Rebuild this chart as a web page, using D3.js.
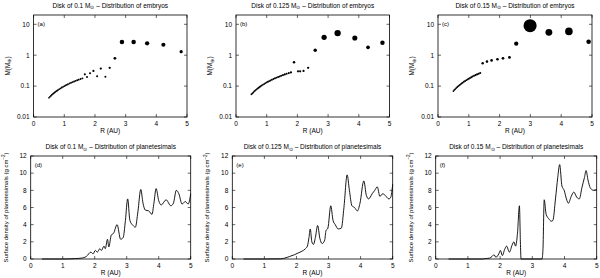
<!DOCTYPE html>
<html>
<head>
<meta charset="utf-8">
<script src="https://cdn.jsdelivr.net/npm/d3@7"></script>
<style>
body { margin: 0; background: #fff; }
text { font-family: "Liberation Sans", Arial, sans-serif; fill: #000; }
</style>
</head>
<body>
<div id="chart"></div>
<script>
// tick labels
var rTicks = [0, 1, 2, 3, 4, 5];
var massTicks = [0.01, 0.1, 1, 10];
var densTicks = [0, 2, 4, 6, 8, 10, 12];

var diskMasses = ["0.1", "0.125", "0.15"];
var embryoLabels = ["(a)", "(b)", "(c)"];
var densLabels = ["(d)", "(e)", "(f)"];

// embryos, disk of 0.1 Msun
var embA_r = [0.50,0.53,0.56,0.59,0.62,0.65,0.68,0.71,0.74,0.77,0.80,0.84,0.88,0.92,0.96,1.00,1.04,1.08,1.12,1.17,1.22,1.27,1.32,1.37,1.42,1.47,1.53,1.59,
  1.67,1.74,1.84,1.95,2.07,2.19,2.34,2.48,2.65,2.88,3.26,3.70,4.23,4.81];
var embA_m = [0.042,0.045,0.048,0.052,0.055,0.058,0.062,0.065,0.069,0.072,0.076,0.080,0.085,0.090,0.095,0.100,0.105,0.110,0.115,0.122,0.128,0.135,0.141,0.148,0.155,0.162,0.170,0.178,
  0.24,0.197,0.26,0.31,0.21,0.37,0.20,0.39,0.79,2.67,2.67,2.42,2.19,1.30];

// embryos, disk of 0.125 Msun
var embB_r = [0.50,0.53,0.56,0.59,0.62,0.65,0.68,0.71,0.74,0.77,0.80,0.84,0.88,0.92,0.96,1.00,1.04,1.08,1.12,1.17,1.22,1.27,1.32,1.37,1.42,1.47,1.53,1.59,1.65,1.72,1.79,
  1.89,2.02,2.09,2.20,2.35,2.58,2.87,3.31,3.87,4.30,4.77];
var embB_m = [0.054,0.058,0.062,0.067,0.071,0.076,0.080,0.085,0.089,0.094,0.099,0.105,0.112,0.118,0.125,0.132,0.138,0.145,0.152,0.161,0.170,0.179,0.188,0.197,0.206,0.216,0.227,0.239,0.250,0.264,0.278,
  0.59,0.30,0.30,0.31,0.39,1.44,3.8,5.2,3.6,1.8,2.54];

// embryos, disk of 0.15 Msun
var embC_r = [0.50,0.53,0.56,0.59,0.62,0.65,0.68,0.71,0.74,0.77,0.80,0.84,0.88,0.92,0.96,1.00,1.04,1.08,1.12,1.17,1.22,1.27,1.32,1.37,
  1.45,1.59,1.74,1.93,2.11,2.32,2.54,2.99,3.60,4.25,4.89];
var embC_m = [0.069,0.075,0.080,0.086,0.092,0.098,0.104,0.110,0.116,0.123,0.129,0.138,0.147,0.156,0.165,0.174,0.184,0.193,0.203,0.215,0.227,0.240,0.252,0.265,
  0.55,0.62,0.68,0.74,0.79,0.85,2.36,9.0,5.5,5.9,2.74];

// planetesimal surface density, disk of 0.1 Msun
var densD_r = [0.35,1.0,1.40,1.58,1.74,1.88,1.95,2.02,2.08,2.16,2.21,2.29,2.33,2.40,2.44,2.52,2.59,2.70,2.81,2.89,2.96,3.03,3.10,3.20,3.27,3.35,3.44,3.51,3.58,3.69,3.79,3.85,3.92,4.00,4.08,4.23,4.38,4.46,4.55,4.63,4.73,4.83,4.92,5.00];
var densD_s = [0,0,0.05,0.1,0.3,0.8,0.6,1.0,0.8,1.2,1.0,1.5,1.2,2.3,1.4,2.8,3.0,4.0,2.3,2.5,4.5,7.0,4.5,3.9,3.7,5.5,8.1,6.5,5.7,5.6,5.2,6.5,8.2,6.8,6.3,6.9,6.2,6.5,8.0,7.6,6.4,6.7,6.4,7.6];

// planetesimal surface density, disk of 0.125 Msun
var densE_r = [0.35,1.0,1.50,1.63,1.79,1.94,2.05,2.17,2.28,2.34,2.39,2.43,2.48,2.53,2.59,2.66,2.73,2.80,2.88,2.92,2.98,3.07,3.14,3.21,3.30,3.40,3.48,3.58,3.65,3.73,3.81,3.90,3.98,4.10,4.18,4.25,4.36,4.44,4.52,4.60,4.69,4.77,4.88,4.94,5.00];
var densE_s = [0,0,0.02,0.1,0.3,0.5,0.7,0.9,1.2,1.5,2.5,3.5,2.0,1.7,2.5,3.9,2.4,1.8,2.2,3.3,3.6,6.2,4.5,4.0,3.5,3.6,6.0,9.8,8.0,6.2,6.0,5.6,6.5,9.1,7.4,7.0,7.6,8.0,8.4,7.3,7.6,7.4,7.0,7.2,8.7];

// planetesimal surface density, disk of 0.15 Msun
var densF_r = [0.40,1.0,1.45,1.54,1.67,1.75,1.81,1.87,1.96,2.01,2.07,2.14,2.20,2.29,2.37,2.43,2.48,2.54,2.60,2.63,2.65,3.00,3.30,3.33,3.37,3.43,3.51,3.59,3.64,3.72,3.79,3.85,3.92,3.99,4.06,4.12,4.21,4.29,4.38,4.46,4.54,4.62,4.67,4.73,4.80,4.90,5.00];
var densF_s = [0,0,0,0.05,0.1,0.3,0.5,0.2,0.6,1.0,0.4,1.1,1.5,0.8,1.6,2.0,1.5,3.0,6.2,2.0,0,0,0,1.0,6.9,5.2,4.7,4.4,4.5,7.0,9.5,11.0,8.5,8.0,7.0,6.5,7.3,7.8,7.2,7.0,8.3,9.5,10.3,9.2,8.3,8.0,8.1];

var width = 600, height = 278;
var svg = d3.select("#chart").append("svg")
	.attr("width", width)
	.attr("height", height);

var fs = 6.5;

// frames of the six panels
var topFrames = [[33.6, 187], [236, 389.5], [438, 592]];
var topY = [15, 117];
var botFrames = [[30.7, 190.7], [232.3, 392.7], [435.7, 596.7]];
var botY = [156, 259];

// embryo dot size, by mass
var sizeScale = d3.scaleLinear()
	.domain([0.04, 0.3, 1, 2.5, 5, 9.5])
	.range([0.85, 1.1, 1.5, 2.2, 3.0, 7.0])
	.clamp(true);

function addTitle(x, y, mass, what) {
	var t = svg.append("text")
		.attr("x", x)
		.attr("y", y)
		.attr("text-anchor", "middle")
		.attr("font-size", fs + "px");
	t.append("tspan").text("Disk of " + mass + " M");
	t.append("tspan").attr("font-size", "4.5px").attr("dy", 1.5).text("\u2299");
	t.append("tspan").attr("dy", -1.5).text(" \u2013 Distribution of " + what);
}

function drawFrame(g, x, y, xTickVals, yTickVals, yFormat) {
	var x0 = x.range()[0], x1 = x.range()[1];
	var y0 = y.range()[0], y1 = y.range()[1];
	g.append("rect")
		.attr("x", x0).attr("y", y1)
		.attr("width", x1 - x0).attr("height", y0 - y1)
		.attr("fill", "none")
		.attr("stroke", "#000")
		.attr("stroke-width", 0.8);

	// ticks on all sides, pointing inward
	xTickVals.forEach(function(v) {
		g.append("line").attr("x1", x(v)).attr("x2", x(v)).attr("y1", y0).attr("y2", y0 - 3)
			.attr("stroke", "#000").attr("stroke-width", 0.6);
		g.append("line").attr("x1", x(v)).attr("x2", x(v)).attr("y1", y1).attr("y2", y1 + 3)
			.attr("stroke", "#000").attr("stroke-width", 0.6);
		g.append("text")
			.attr("x", x(v)).attr("y", y0 + 9)
			.attr("text-anchor", "middle")
			.attr("font-size", fs + "px")
			.text(v);
	});
	yTickVals.forEach(function(v) {
		g.append("line").attr("x1", x0).attr("x2", x0 + 3).attr("y1", y(v)).attr("y2", y(v))
			.attr("stroke", "#000").attr("stroke-width", 0.6);
		g.append("line").attr("x1", x1).attr("x2", x1 - 3).attr("y1", y(v)).attr("y2", y(v))
			.attr("stroke", "#000").attr("stroke-width", 0.6);
		g.append("text")
			.attr("x", x0 - 4).attr("y", y(v) + 2.3)
			.attr("text-anchor", "end")
			.attr("font-size", fs + "px")
			.text(yFormat(v));
	});
	g.append("text")
		.attr("x", (x0 + x1) / 2).attr("y", y0 + 16)
		.attr("text-anchor", "middle")
		.attr("font-size", fs + "px")
		.text("R (AU)");
}

var embryoR = [embA_r, embB_r, embC_r];
var embryoM = [embA_m, embB_m, embC_m];

// Top row: embryo masses
for (var i = 0; i < 3; i++) {
	var g = svg.append("g");
	var x = d3.scaleLinear().domain([0, 5]).range(topFrames[i]);
	var y = d3.scaleLog().domain([0.01, 20]).range([topY[1], topY[0]]);

	drawFrame(g, x, y, rTicks, massTicks, function(v) { return String(v); });

	addTitle((topFrames[i][0] + topFrames[i][1]) / 2, 7.5, diskMasses[i], "embryos");

	g.append("text")
		.attr("x", x(0) + 4).attr("y", y(10) + 2)
		.attr("font-size", "6px")
		.text(embryoLabels[i]);

	var yl = g.append("text")
		.attr("transform", "translate(" + (topFrames[i][0] - 24) + "," + ((topY[0] + topY[1]) / 2) + ") rotate(-90)")
		.attr("text-anchor", "middle")
		.attr("font-size", fs + "px");
	yl.append("tspan").text("M(M");
	yl.append("tspan").attr("font-size", "4.5px").attr("dy", 1.5).text("\u2295");
	yl.append("tspan").attr("dy", -1.5).text(")");

	var rs = embryoR[i], ms = embryoM[i];
	var pts = rs.map(function(r, k) { return {r: r, m: ms[k]}; });
	g.selectAll("circle.emb")
		.data(pts)
		.enter().append("circle")
		.attr("class", "emb")
		.attr("cx", function(d) { return x(d.r); })
		.attr("cy", function(d) { return y(d.m); })
		.attr("r", function(d) { return sizeScale(d.m); })
		.attr("fill", "#000");
}

var densR = [densD_r, densE_r, densF_r];
var densS = [densD_s, densE_s, densF_s];

// Bottom row: surface density of planetesimals
for (var j = 0; j < 3; j++) {
	var g2 = svg.append("g");
	var xb = d3.scaleLinear().domain([0, 5]).range(botFrames[j]);
	var yb = d3.scaleLinear().domain([0, 12]).range([botY[1], botY[0]]);

	drawFrame(g2, xb, yb, rTicks, densTicks, function(v) { return String(v); });

	addTitle((botFrames[j][0] + botFrames[j][1]) / 2, 149, diskMasses[j], "planetesimals");

	g2.append("text")
		.attr("x", xb(0) + 4).attr("y", yb(11) + 2)
		.attr("font-size", "6px")
		.text(densLabels[j]);

	var yl2 = g2.append("text")
		.attr("transform", "translate(" + (botFrames[j][0] - 23) + "," + ((botY[0] + botY[1]) / 2) + ") rotate(-90)")
		.attr("text-anchor", "middle")
		.attr("font-size", "6px");
	yl2.append("tspan").text("Surface density of planetesimals (g cm");
	yl2.append("tspan").attr("font-size", "4.5px").attr("dy", -2.5).text("\u22122");
	yl2.append("tspan").attr("dy", 2.5).text(")");

	var dpts = densR[j].map(function(r, k) { return {r: r, s: densS[j][k]}; });
	var line = d3.line()
		.x(function(d) { return xb(d.r); })
		.y(function(d) { return yb(d.s); })
		.curve(d3.curveMonotoneX);
	g2.append("path")
		.datum(dpts)
		.attr("d", line)
		.attr("fill", "none")
		.attr("stroke", "#000")
		.attr("stroke-width", 0.9);
}
</script>
</body>
</html>
